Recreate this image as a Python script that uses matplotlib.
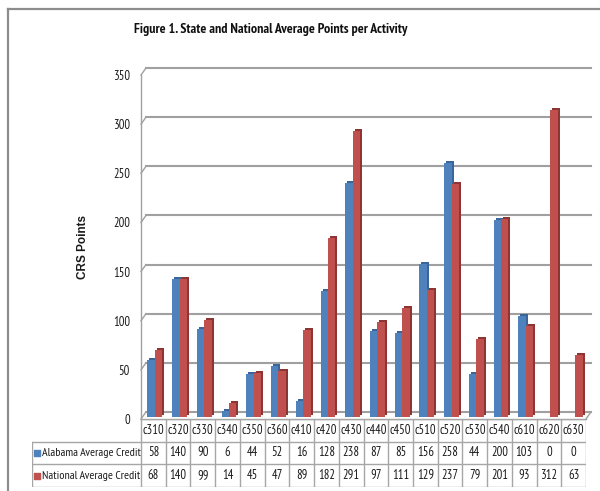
import matplotlib as mpl
import matplotlib.pyplot as plt
from matplotlib.transforms import offset_copy
import numpy as np

mpl.rcParams['font.family'] = ['PT Sans Narrow', 'Carlito', 'DejaVu Sans']

categories = ['c310', 'c320', 'c330', 'c340', 'c350', 'c360', 'c410', 'c420', 'c430',
              'c440', 'c450', 'c510', 'c520', 'c530', 'c540', 'c610', 'c620', 'c630']
alabama = [58, 140, 90, 6, 44, 52, 16, 128, 238, 87, 85, 156, 258, 44, 200, 103, 0, 0]
national = [68, 140, 99, 14, 45, 47, 89, 182, 291, 97, 111, 129, 237, 79, 201, 93, 312, 63]
series_names = ['Alabama Average Credit', 'National Average Credit']
yticks = [0, 50, 100, 150, 200, 250, 300, 350]

blue, blue_dk = '#4F81BD', '#3A659A'
red, red_dk = '#C0504D', '#8E3432'
grid_c = '#A0A0A0'
txt_c = '#1a1a1a'

W, H = 600, 491
fig = plt.figure(figsize=(W / 100, H / 100), dpi=100)

# outer frame
fig.add_artist(plt.Line2D([8 / W, 8 / W], [0, 1 - 9 / H], color='#8C8C8C', lw=1.6))
fig.add_artist(plt.Line2D([8 / W, 1], [1 - 9 / H, 1 - 9 / H], color='#8C8C8C', lw=1.6))

# plot area (front plane)
x0, x1 = 141, 586
y0, y1 = 419, 75
ax = fig.add_axes([x0 / W, (H - y0) / H, (x1 - x0) / W, (y0 - y1) / H])
n = len(categories)
ax.set_xlim(0, n)
ax.set_ylim(0, 350)
for s in ax.spines.values():
    s.set_visible(False)
ax.set_xticks([])
ax.set_yticks(yticks)
ax.tick_params(axis='y', length=0, pad=8, labelsize=9, labelcolor=txt_c)

# 3d depth offsets in data units
px_x = n / (x1 - x0)
px_y = 350 / (y0 - y1)
dx, dy = 5 * px_x, 7 * px_y

# back wall gridlines + slanted left edges
for v in yticks:
    ax.plot([dx, n + dx], [v + dy, v + dy], color=grid_c, lw=1.5, clip_on=False, zorder=1)
    ax.plot([0, dx], [v, v + dy], color=grid_c, lw=1.0, clip_on=False, zorder=1)
ax.plot([0, 0], [0, 350], color=grid_c, lw=1.0, clip_on=False, zorder=1)
ax.plot([n, n + dx], [0, dy], color=grid_c, lw=1.0, clip_on=False, zorder=1)
ax.plot([0, n], [0, 0], color=grid_c, lw=1.0, clip_on=False, zorder=1)

# 3d-ish columns: a darker copy shifted back, then the front face
idx = np.arange(n)
bw = 0.3
front = offset_copy(ax.transData, fig=fig, x=1.5, y=2, units='dots')
back = offset_copy(ax.transData, fig=fig, x=3.5, y=4, units='dots')
ax.bar(idx + 0.5 - bw, alabama, bw, align='edge', color=blue_dk, transform=back, zorder=2)
ax.bar(idx + 0.5 - bw, alabama, bw, align='edge', color=blue, transform=front, zorder=3)
ax.bar(idx + 0.5, national, bw, align='edge', color=red_dk, transform=back, zorder=4)
ax.bar(idx + 0.5, national, bw, align='edge', color=red, transform=front, zorder=5)

ax.set_ylabel('CRS Points', fontsize=8.5, fontweight='bold', family='Liberation Sans',
              labelpad=17, color=txt_c)

fig.text(271 / W, 1 - 29 / H, 'Figure 1. State and National Average Points per Activity',
         ha='center', va='center', fontsize=10, fontweight='bold', color='#111111')

# data table
tx0 = 32
ty0, ty1 = 419, 487
tax = fig.add_axes([tx0 / W, (H - ty1) / H, (x1 - tx0) / W, (ty1 - ty0) / H])
lw_units = (x0 - tx0) * px_x
tax.set_xlim(-lw_units, n)
tax.set_ylim(3, 0)
tax.axis('off')
lc = '#A6A6A6'
tfs = 9
# horizontal lines
tax.plot([0, n], [0, 0], color=lc, lw=1)
for r in [1, 2, 3]:
    tax.plot([-lw_units, n], [r, r], color=lc, lw=1)
# vertical lines
for c in range(n + 1):
    tax.plot([c, c], [0, 3], color=lc, lw=1)
tax.plot([-lw_units, -lw_units], [1, 3], color=lc, lw=1)
for i, cat in enumerate(categories):
    tax.text(i + 0.5, 0.5, cat, ha='center', va='center', fontsize=tfs, color=txt_c)
    tax.text(i + 0.5, 1.5, str(alabama[i]), ha='center', va='center', fontsize=tfs, color=txt_c)
    tax.text(i + 0.5, 2.5, str(national[i]), ha='center', va='center', fontsize=tfs, color=txt_c)
for r, (name, col) in enumerate(zip(series_names, [blue, red])):
    tax.scatter([-lw_units + 0.2], [r + 1.5], marker='s', s=20, color=col, clip_on=False)
    tax.text(-lw_units + 0.4, r + 1.5, name, ha='left', va='center', fontsize=8.6, color=txt_c)

fig.savefig('out.png', dpi=100)
